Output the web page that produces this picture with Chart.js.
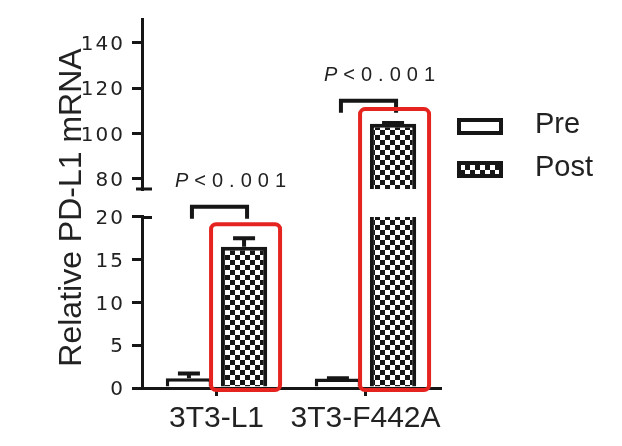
<!DOCTYPE html>
<html>
<head>
<meta charset="utf-8">
<script src="https://cdn.jsdelivr.net/npm/chart.js@4.4.1/dist/chart.umd.min.js"></script>
<style>
  html, body { margin: 0; padding: 0; background: #fff; }
</style>
</head>
<body>
<canvas id="chart" width="622" height="446"></canvas>
<script>
// values
const categories = ["3T3-L1", "3T3-F442A"];
const preValues = [1.15, 1.1];
const preErrors = [0.55, 0.05];
const postValues = [16.5, 104.3];
const postErrors = [1.0, 0.3];
const lowerTicks = [0, 5, 10, 15, 20];
const upperTicks = [80, 100, 120, 140];
const pLabels = ["P<0.001", "P<0.001"];
const bracketLevels = [21.2, 114.5];

// the two segments of the broken y axis
const lowerRange = [0, 20];
const upperRange = [75.5, 150.5];

const FONT = "'Liberation Sans', Arial, sans-serif";
const INK = "#161616";

Chart.defaults.font.family = FONT;
Chart.defaults.color = "#222";

// checkerboard fill for the Post bars
const checker = (() => {
    const c = document.createElement("canvas");
    c.width = 10;
    c.height = 10;
    const g = c.getContext("2d");
    g.fillStyle = "#fff";
    g.fillRect(0, 0, 10, 10);
    g.fillStyle = INK;
    g.fillRect(0, 0, 5, 5);
    g.fillRect(5, 5, 5, 5);
    return g.createPattern(c, "repeat");
})();

const brokenAxis = {
    id: "brokenAxis",
    beforeDraw(chart) {
        chart.ctx.letterSpacing = "0px";
    },
    // keep each dataset inside its own y segment
    beforeDatasetDraw(chart, args) {
        const { ctx, chartArea: a } = chart;
        const ys = args.meta.yScale;
        ctx.save();
        ctx.beginPath();
        ctx.rect(a.left, ys.top, a.right - a.left, ys.bottom - ys.top);
        ctx.clip();
    },
    afterDatasetDraw(chart, args) {
        const ctx = chart.ctx;
        const ds = chart.data.datasets[args.index];
        const ys = args.meta.yScale;
        ctx.strokeStyle = INK;
        ctx.lineWidth = 4;
        args.meta.data.forEach((bar, i) => {
            const top = ys.getPixelForValue(ds.data[i] + ds.errors[i]);
            ctx.beginPath();
            ctx.moveTo(bar.x, bar.y);
            ctx.lineTo(bar.x, top);
            ctx.moveTo(bar.x - 11, top);
            ctx.lineTo(bar.x + 11, top);
            ctx.stroke();
        });
        ctx.restore();
    },
    afterDatasetsDraw(chart) {
        // y tick labels are drawn after this (ticks.z = 1), spaced out like the figure
        chart.ctx.letterSpacing = "2px";
    },
    afterDraw(chart) {
        const { ctx, chartArea: a, scales } = chart;
        const yTop = scales.yTop, yBot = scales.yBot;
        const preMeta = chart.getDatasetMeta(0), postMeta = chart.getDatasetMeta(1);
        ctx.save();
        ctx.letterSpacing = "0px";

        // caps at the axis break
        ctx.strokeStyle = INK;
        ctx.lineWidth = 3;
        ctx.beginPath();
        ctx.moveTo(a.left - 6, yTop.bottom);
        ctx.lineTo(a.left + 10, yTop.bottom);
        ctx.moveTo(a.left, yBot.top + 0.5);
        ctx.lineTo(a.left + 10, yBot.top + 0.5);
        ctx.stroke();

        // y title across both segments
        ctx.save();
        ctx.fillStyle = "#222";
        ctx.font = "32px " + FONT;
        ctx.textAlign = "center";
        ctx.textBaseline = "alphabetic";
        ctx.translate(81, (a.top + a.bottom) / 2 + 4);
        ctx.rotate(-Math.PI / 2);
        ctx.fillText("Relative PD-L1 mRNA", 0, 0);
        ctx.restore();

        // significance brackets
        categories.forEach((c, i) => {
            const sc = postValues[i] + postErrors[i] <= lowerRange[1] ? yBot : yTop;
            const y = sc.getPixelForValue(bracketLevels[i]);
            const x1 = preMeta.data[i].x + 3, x2 = postMeta.data[i].x + 3;
            ctx.strokeStyle = INK;
            ctx.lineWidth = 4;
            ctx.beginPath();
            ctx.moveTo(x1, y + 12);
            ctx.lineTo(x1, y);
            ctx.lineTo(x2, y);
            ctx.lineTo(x2, y + 12);
            ctx.stroke();

            const label = pLabels[i];
            ctx.fillStyle = "#222";
            ctx.textAlign = "left";
            ctx.letterSpacing = "6px";
            let tx = x1 - 17;
            ctx.font = "italic 20px " + FONT;
            ctx.fillText(label[0], tx, y - 20);
            tx += ctx.measureText(label[0]).width;
            ctx.font = "20px " + FONT;
            ctx.fillText(label.slice(1), tx, y - 20);
            ctx.letterSpacing = "0px";
        });

        // legend
        ctx.font = "29px " + FONT;
        ctx.textAlign = "left";
        chart.data.datasets.filter(d => !d.legendHidden).forEach((d, i) => {
            const bx = a.right + 19, by = 120 + i * 43;
            ctx.fillStyle = d.backgroundColor;
            ctx.fillRect(bx, by, 42, 13);
            ctx.lineWidth = 4;
            ctx.strokeStyle = d.borderColor;
            ctx.strokeRect(bx, by, 42, 13);
            ctx.fillStyle = "#222";
            ctx.fillText(d.label, bx + 76, by + 13);
        });

        // red highlight frames round the Post bars
        ctx.strokeStyle = "#e52420";
        ctx.lineWidth = 4;
        categories.forEach((c, i) => {
            const bar = postMeta.data[i];
            const v = postValues[i] + postErrors[i];
            const sc = v <= lowerRange[1] ? yBot : yTop;
            const top = sc.getPixelForValue(v) - 14;
            ctx.beginPath();
            ctx.roundRect(bar.x - 33, top, 69, a.bottom + 2 - top, 5);
            ctx.stroke();
        });

        ctx.restore();
        ctx.letterSpacing = "0px";
    }
};

const yAxisBase = {
    position: "left",
    stack: "y",
    stacked: false,
    grid: { drawOnChartArea: false, tickLength: 10, color: INK, lineWidth: 3 },
    border: { color: INK, width: 3 },
    ticks: {
        font: { family: "'DejaVu Sans', sans-serif", size: 20 }, color: "#222",
        padding: 7, labelOffset: 2, z: 1, autoSkip: false
    },
    afterFit: s => { s.width = 142; }
};

new Chart(document.getElementById("chart"), {
    type: "bar",
    data: {
        labels: categories,
        datasets: [
            {
                label: "Pre", data: preValues, errors: preErrors, yAxisID: "yBot", stack: "pre",
                backgroundColor: "#fff", borderColor: INK, borderWidth: 3.5
            },
            {
                label: "Post", data: postValues, errors: postErrors, yAxisID: "yBot", stack: "post",
                backgroundColor: checker, borderColor: INK, borderWidth: 4
            },
            {
                label: "Post", data: postValues, errors: postErrors, yAxisID: "yTop", stack: "post",
                backgroundColor: checker, borderColor: INK, borderWidth: 4, legendHidden: true
            }
        ]
    },
    options: {
        responsive: false,
        animation: false,
        events: [],
        layout: { padding: { top: 17, right: 182, bottom: 0, left: 0 } },
        datasets: { bar: { categoryPercentage: 0.74, barPercentage: 0.84 } },
        plugins: { legend: { display: false }, tooltip: { enabled: false } },
        scales: {
            x: {
                grid: { drawOnChartArea: false, offset: false, tickLength: 8, color: INK, lineWidth: 3 },
                border: { color: INK, width: 3 },
                ticks: { font: { size: 30 }, color: "#222", padding: 5, maxRotation: 0, minRotation: 0, autoSkip: false },
                afterFit: s => { s.height = 58; }
            },
            yTop: Object.assign({}, yAxisBase, {
                weight: 3, stackWeight: 171,
                min: upperRange[0], max: upperRange[1],
                afterBuildTicks: s => { s.ticks = upperTicks.map(v => ({ value: v })); }
            }),
            yGap: { position: "left", stack: "y", weight: 2, stackWeight: 28, display: false, min: 0, max: 1 },
            yBot: Object.assign({}, yAxisBase, {
                weight: 1, stackWeight: 172,
                min: lowerRange[0], max: lowerRange[1],
                afterBuildTicks: s => { s.ticks = lowerTicks.map(v => ({ value: v })); }
            })
        }
    },
    plugins: [brokenAxis]
});
</script>
</body>
</html>
